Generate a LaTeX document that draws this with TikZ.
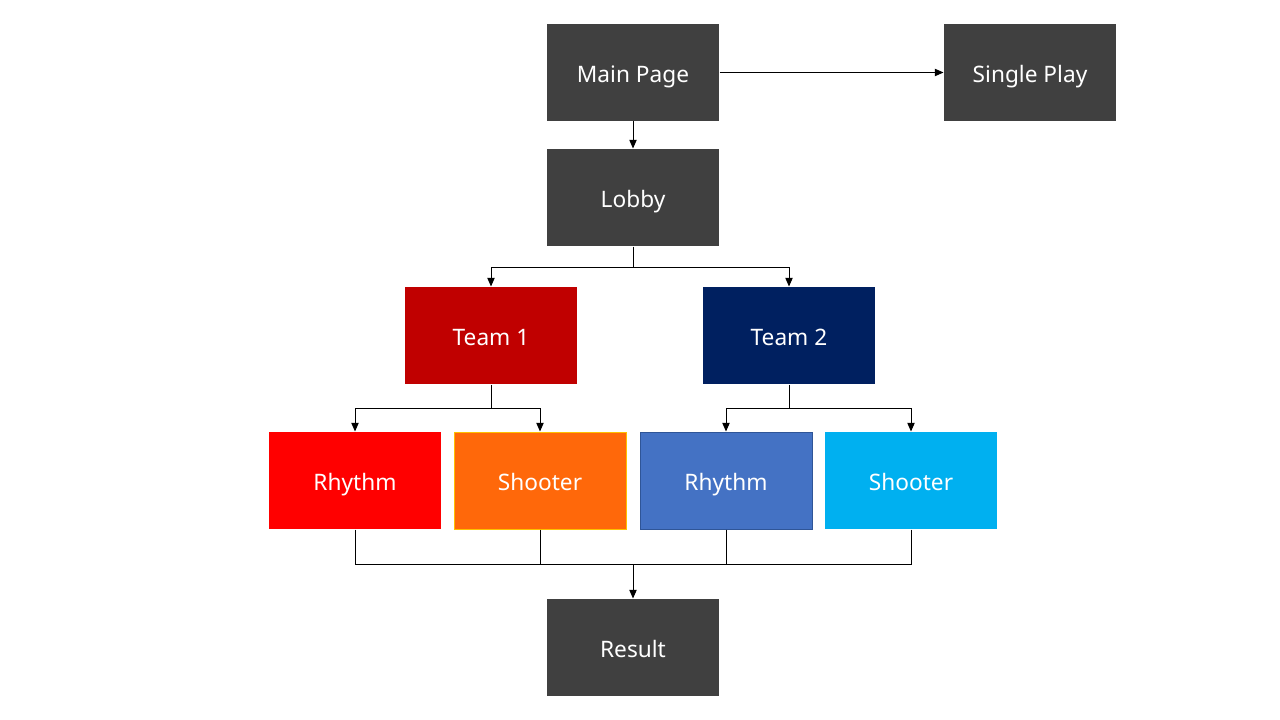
\documentclass[tikz,border=0pt]{standalone}
\usepackage{fontspec}
\setmainfont{Noto Sans}
\usetikzlibrary{arrows.meta}
\definecolor{boxgray}{HTML}{404040}
\definecolor{teamred}{HTML}{C00000}
\definecolor{teamblue}{HTML}{002060}
\definecolor{rred}{HTML}{FF0000}
\definecolor{sorange}{HTML}{FF680A}
\definecolor{oborder}{HTML}{FFC000}
\definecolor{rblue}{HTML}{4472C4}
\definecolor{bborder}{HTML}{2F5597}
\definecolor{scyan}{HTML}{00B0F0}
\begin{document}
\begin{tikzpicture}[x=0.75pt,y=-0.75pt,
  box/.style={rectangle, minimum width=129pt, minimum height=72.75pt, inner sep=0pt,
    text height=15pt, text depth=0pt,
    text=white, font=\fontsize{17}{20}\selectfont, fill=boxgray, line width=0.75pt},
  conn/.style={line width=0.75pt, black},
  arr/.style={conn, -{Triangle[length=6.5pt,width=5.5pt]}}]
\useasboundingbox (0,0) rectangle (1280,720);
\fill[white] (0,0) rectangle (1280,720);
\node[box] (main) at (633,72.5) {Main Page};
\node[box] (single) at (1030,72.5) {Single Play};
\node[box] (lobby) at (633,197.5) {Lobby};
\node[box, fill=teamred] (t1) at (491,335.5) {Team 1};
\node[box, fill=teamblue] (t2) at (789,335.5) {Team 2};
\node[box, fill=rred] (r1) at (355,480.5) {Rhythm};
\node[box, fill=sorange, draw=oborder] (s1) at (540,480.5) {Shooter};
\node[box, fill=rblue, draw=bborder] (r2) at (726,480.5) {Rhythm};
\node[box, fill=scyan] (s2) at (911,480.5) {Shooter};
\node[box] (res) at (633,647.5) {Result};
\coordinate (j1) at (633,267);
\coordinate (j2) at (491,408);
\coordinate (j3) at (789,408);
\coordinate (j4) at (633,564);
\draw[arr] (main) -- (single);
\draw[arr] (main) -- (lobby);
\draw[conn] (lobby.south) -- (j1);
\draw[arr] (j1) -| (t1.north);
\draw[arr] (j1) -| (t2.north);
\draw[conn] (t1.south) -- (j2);
\draw[arr] (j2) -| (r1.north);
\draw[arr] (j2) -| (s1.north);
\draw[conn] (t2.south) -- (j3);
\draw[arr] (j3) -| (r2.north);
\draw[arr] (j3) -| (s2.north);
\draw[conn] (r1.south) |- (j4);
\draw[conn] (s1.south) |- (j4);
\draw[conn] (r2.south) |- (j4);
\draw[conn] (s2.south) |- (j4);
\draw[arr] (j4) -- (res.north);
\end{tikzpicture}
\end{document}
